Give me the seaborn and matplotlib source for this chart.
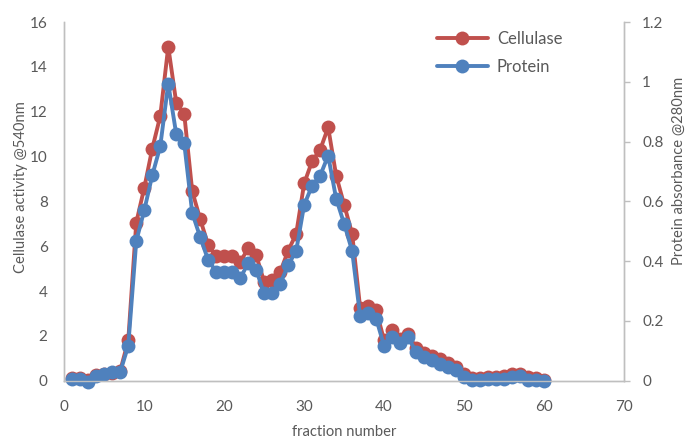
import matplotlib
matplotlib.use("Agg")
import matplotlib.pyplot as plt
from matplotlib.lines import Line2D
import seaborn as sns
import pandas as pd

fraction = list(range(1, 61))
cellulase = [0.1, 0.1, 0.05, 0.25, 0.3, 0.35, 0.45, 1.8, 7.05, 8.6,
             10.35, 11.8, 14.9, 12.4, 11.9, 8.45, 7.2, 6.05, 5.55, 5.55,
             5.55, 5.3, 5.9, 5.6, 4.4, 4.5, 4.85, 5.8, 6.55, 8.8,
             9.8, 10.3, 11.3, 9.15, 7.85, 6.55, 3.25, 3.35, 3.15, 1.8,
             2.25, 1.85, 2.1, 1.45, 1.25, 1.1, 0.95, 0.8, 0.62, 0.3,
             0.12, 0.12, 0.15, 0.15, 0.2, 0.3, 0.3, 0.15, 0.1, 0.05]
protein = [0.006, 0.006, -0.005, 0.017, 0.022, 0.028, 0.03, 0.117, 0.467, 0.57,
           0.687, 0.784, 0.994, 0.825, 0.794, 0.561, 0.48, 0.403, 0.365, 0.365,
           0.365, 0.343, 0.393, 0.37, 0.292, 0.294, 0.324, 0.387, 0.434, 0.588,
           0.653, 0.686, 0.753, 0.609, 0.525, 0.434, 0.216, 0.225, 0.208, 0.116,
           0.145, 0.127, 0.145, 0.097, 0.08, 0.069, 0.057, 0.046, 0.035, 0.013,
           0.002, 0.002, 0.005, 0.005, 0.007, 0.013, 0.015, 0.004, 0.002, 0.0]

x_ticks = [0, 10, 20, 30, 40, 50, 60, 70]
left_ticks = [0, 2, 4, 6, 8, 10, 12, 14, 16]
right_ticks = [0, 0.2, 0.4, 0.6, 0.8, 1.0, 1.2]
right_tick_labels = ["0", "0.2", "0.4", "0.6", "0.8", "1", "1.2"]

RED = "#C0504D"
BLUE = "#4F81BD"
TXT = "#595959"
GRID = "#BFBFBF"

sns.set_style("white")
plt.rcParams["font.family"] = ["Lato", "DejaVu Sans"]

df = pd.DataFrame({"fraction": fraction, "cellulase": cellulase, "protein": protein})

fig = plt.figure(figsize=(6.89, 4.41), dpi=100)
ax = fig.add_axes([64.3 / 689, 1 - 380.7 / 441, (624 - 64.3) / 689, (380.7 - 22) / 441])
ax2 = ax.twinx()

lw = 2.8
ms = 10
sns.lineplot(data=df, x="fraction", y="cellulase", ax=ax, color=RED, marker="o",
             markersize=ms, linewidth=lw, markeredgewidth=0, clip_on=False)
sns.lineplot(data=df, x="fraction", y="protein", ax=ax2, color=BLUE, marker="o",
             markersize=ms, linewidth=lw, markeredgewidth=0, clip_on=False)

ax.set_xlim(0, 70)
ax.set_ylim(0, 16)
ax2.set_ylim(0, 1.2)
ax.set_xticks(x_ticks)
ax.set_yticks(left_ticks)
ax2.set_yticks(right_ticks)
ax2.set_yticklabels(right_tick_labels)

for a in (ax, ax2):
    for s in a.spines.values():
        s.set_color(GRID)
        s.set_linewidth(1.0)
    a.spines["top"].set_visible(False)
    a.set_xlabel("")
    a.set_ylabel("")

fs = 11
ax.tick_params(axis="x", length=0, pad=14, labelsize=fs, labelcolor=TXT)
ax.tick_params(axis="y", length=0, pad=12, labelsize=fs, labelcolor=TXT)
ax2.tick_params(axis="y", length=4, width=1.0, color=GRID, pad=9, labelsize=fs, labelcolor=TXT)

lab_fs = 10.6
fig.text(21 / 689, 1 - 187 / 441, "Cellulase activity @540nm", rotation=90,
         ha="center", va="center", fontsize=lab_fs, color=TXT)
fig.text(679 / 689, 1 - 171 / 441, "Protein absorbance @280nm", rotation=90,
         ha="center", va="center", fontsize=lab_fs, color=TXT)
fig.text(344 / 689, 1 - 432 / 441, "fraction number", ha="center", va="center",
         fontsize=lab_fs, color=TXT)

leg_fs = 12
handles = [Line2D([], [], color=RED, marker="o", markersize=ms, linewidth=lw, markeredgewidth=0),
           Line2D([], [], color=BLUE, marker="o", markersize=ms, linewidth=lw, markeredgewidth=0)]
leg = ax2.legend(handles, ["Cellulase", "Protein"], loc="upper left",
                 bbox_to_anchor=(437 / 689, 1 - 31 / 441), bbox_transform=fig.transFigure,
                 frameon=False, fontsize=leg_fs, handlelength=3.05, handletextpad=0.54,
                 labelspacing=0.7, borderpad=0, borderaxespad=0)
for t in leg.get_texts():
    t.set_color(TXT)

fig.savefig("out.png", dpi=100)
